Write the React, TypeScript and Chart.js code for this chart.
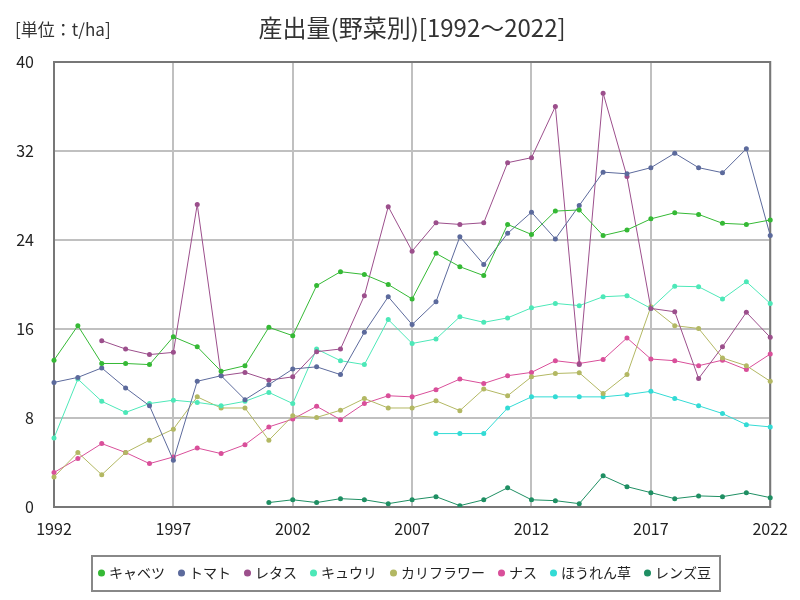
import React, { useEffect, useRef } from "react";
import { Chart, registerables } from "chart.js";

Chart.register(...registerables);

const years = [
  1992, 1993, 1994, 1995, 1996, 1997, 1998, 1999, 2000, 2001, 2002, 2003, 2004, 2005, 2006, 2007,
  2008, 2009, 2010, 2011, 2012, 2013, 2014, 2015, 2016, 2017, 2018, 2019, 2020, 2021, 2022,
];

const cabbage = [13.2, 16.3, 12.9, 12.9, 12.8, 15.3, 14.4, 12.2, 12.7, 16.15, 15.4, 19.9, 21.15, 20.9, 20.0, 18.7, 22.8, 21.6, 20.8, 25.4, 24.5, 26.6, 26.7, 24.4, 24.9, 25.9, 26.45, 26.3, 25.5, 25.4, 25.8];
const tomato = [11.2, 11.65, 12.5, 10.7, 9.1, 4.2, 11.3, 11.8, 9.65, 11.0, 12.4, 12.6, 11.9, 15.7, 18.9, 16.4, 18.45, 24.3, 21.8, 24.6, 26.5, 24.1, 27.1, 30.1, 29.95, 30.5, 31.8, 30.5, 30.05, 32.2, 24.4];
const lettuce = [null, null, 14.95, 14.2, 13.7, 13.9, 27.2, 11.8, 12.1, 11.4, 11.7, 13.96, 14.2, 19.0, 27.0, 23.0, 25.55, 25.4, 25.55, 30.95, 31.4, 36.0, 12.8, 37.2, 29.7, 17.85, 17.55, 11.55, 14.4, 17.5, 15.25];
const cucumber = [6.2, 11.5, 9.5, 8.5, 9.3, 9.6, 9.4, 9.1, 9.5, 10.3, 9.3, 14.2, 13.15, 12.8, 16.85, 14.7, 15.1, 17.1, 16.6, 17.0, 17.9, 18.3, 18.1, 18.9, 19.0, 17.85, 19.85, 19.8, 18.7, 20.25, 18.3];
const cauliflower = [2.7, 4.9, 2.9, 4.9, 6.0, 7.0, 9.9, 8.9, 8.9, 6.0, 8.2, 8.05, 8.7, 9.75, 8.9, 8.9, 9.55, 8.66, 10.6, 10.0, 11.7, 12.0, 12.07, 10.2, 11.9, 18.0, 16.3, 16.05, 13.4, 12.7, 11.3];
const eggplant = [3.1, 4.35, 5.7, 4.9, 3.9, 4.5, 5.3, 4.8, 5.6, 7.2, 7.9, 9.05, 7.85, 9.3, 10.0, 9.9, 10.55, 11.5, 11.1, 11.8, 12.1, 13.15, 12.9, 13.25, 15.2, 13.3, 13.15, 12.7, 13.2, 12.35, 13.75];
const spinach = [null, null, null, null, null, null, null, null, null, null, null, null, null, null, null, null, 6.6, 6.6, 6.6, 8.9, 9.9, 9.9, 9.9, 9.9, 10.1, 10.4, 9.75, 9.1, 8.4, 7.4, 7.2];
const lentils = [null, null, null, null, null, null, null, null, null, 0.4, 0.65, 0.4, 0.75, 0.65, 0.3, 0.65, 0.93, 0.12, 0.65, 1.73, 0.65, 0.57, 0.3, 2.8, 1.83, 1.29, 0.75, 1.0, 0.93, 1.29, 0.84];

const seriesNames = ["キャベツ", "トマト", "レタス", "キュウリ", "カリフラワー", "ナス", "ほうれん草", "レンズ豆"];
const seriesValues = [cabbage, tomato, lettuce, cucumber, cauliflower, eggplant, spinach, lentils];
const seriesColors = ["#35b935", "#5c6a9c", "#9c4f8c", "#4de8b8", "#b3b863", "#d94f9a", "#33dbd5", "#1f8f63"];

const yTicks = [0, 8, 16, 24, 32, 40];
const titleText = "産出量(野菜別)[1992〜2022]";
const unitText = "[単位：t/ha]";

const FONT = "'Noto Sans CJK JP', 'Noto Sans', sans-serif";

const decorPlugin = {
  id: "decor",
  afterLayout(chart: any) {
    const lg = chart.legend;
    if (lg) {
      const shift = 406 - (lg.left + lg.right) / 2;
      lg.left += shift;
      lg.right += shift;
    }
  },
  beforeDatasetsDraw(chart: any) {
    const { ctx, chartArea } = chart;
    ctx.save();
    ctx.strokeStyle = "#777777";
    ctx.lineWidth = 2;
    ctx.strokeRect(chartArea.left, chartArea.top, chartArea.right - chartArea.left, chartArea.bottom - chartArea.top);
    ctx.restore();
  },
  afterDraw(chart: any) {
    const { ctx } = chart;
    ctx.save();
    ctx.fillStyle = "#333333";
    ctx.font = `17px ${FONT}`;
    ctx.textAlign = "left";
    ctx.textBaseline = "middle";
    ctx.fillText(unitText, 15, 30);
    const hb = chart.legend && chart.legend.legendHitBoxes;
    if (hb && hb.length) {
      let l = Infinity, r = -Infinity, t = Infinity, b = -Infinity;
      hb.forEach((h: any) => {
        l = Math.min(l, h.left);
        r = Math.max(r, h.left + h.width);
        t = Math.min(t, h.top);
        b = Math.max(b, h.top + h.height);
      });
      ctx.strokeStyle = "#888888";
      ctx.lineWidth = 2;
      ctx.strokeRect(l - 9, t - 10, r - l + 18, b - t + 21);
    }
    ctx.restore();
  },
};

export default function App() {
  const ref = useRef<HTMLCanvasElement | null>(null);

  useEffect(() => {
    document.body.style.margin = "0";
    if (!ref.current) return;
    const chart = new Chart(ref.current, {
      type: "line",
      data: {
        labels: years.map(String),
        datasets: seriesNames.map((name, i) => ({
          label: name,
          data: seriesValues[i],
          borderColor: seriesColors[i],
          backgroundColor: seriesColors[i],
          pointBackgroundColor: seriesColors[i],
          pointBorderColor: seriesColors[i],
          pointBorderWidth: 0,
          pointRadius: 2.5,
          borderWidth: 1,
          spanGaps: false,
          tension: 0,
        })),
      },
      options: {
        responsive: false,
        animation: false,
        layout: { padding: { left: 14, right: 28, top: 0, bottom: 10 } },
        scales: {
          x: {
            type: "category",
            offset: false,
            grid: {
              drawTicks: false,
              lineWidth: 2,
              color: (c: any) => (c.index % 5 === 0 ? "#c0c0c0" : "rgba(0,0,0,0)"),
            },
            border: { display: false },
            ticks: {
              autoSkip: false,
              maxRotation: 0,
              padding: 12,
              color: "#222222",
              font: { family: FONT, size: 16 },
              callback: (_v: any, i: number) => (i % 5 === 0 ? String(years[i]) : ""),
            },
            afterFit: (s: any) => {
              s.height = 43;
            },
          },
          y: {
            min: yTicks[0],
            max: yTicks[yTicks.length - 1],
            grid: { drawTicks: false, lineWidth: 2, color: "#c0c0c0" },
            border: { display: false },
            afterBuildTicks: (s: any) => {
              s.ticks = yTicks.map((v) => ({ value: v }));
            },
            ticks: {
              padding: 20,
              color: "#222222",
              font: { family: FONT, size: 16 },
            },
            afterFit: (s: any) => {
              s.width = 40;
            },
          },
        },
        plugins: {
          title: {
            display: true,
            text: titleText,
            fullSize: false,
            color: "#333333",
            font: { family: FONT, size: 24, weight: "normal" },
            padding: { top: 13.6, bottom: 19.6 },
          },
          legend: {
            position: "bottom",
            labels: {
              usePointStyle: true,
              pointStyle: "circle",
              boxWidth: 1,
              boxHeight: 5,
              padding: 16,
              color: "#222222",
              font: { family: FONT, size: 14 },
            },
          },
          tooltip: { enabled: false },
        },
      },
      plugins: [decorPlugin],
    });
    return () => chart.destroy();
  }, []);

  return (
    <div style={{ width: 800, height: 600 }}>
      <canvas ref={ref} width={800} height={600} style={{ display: "block" }} />
    </div>
  );
}
